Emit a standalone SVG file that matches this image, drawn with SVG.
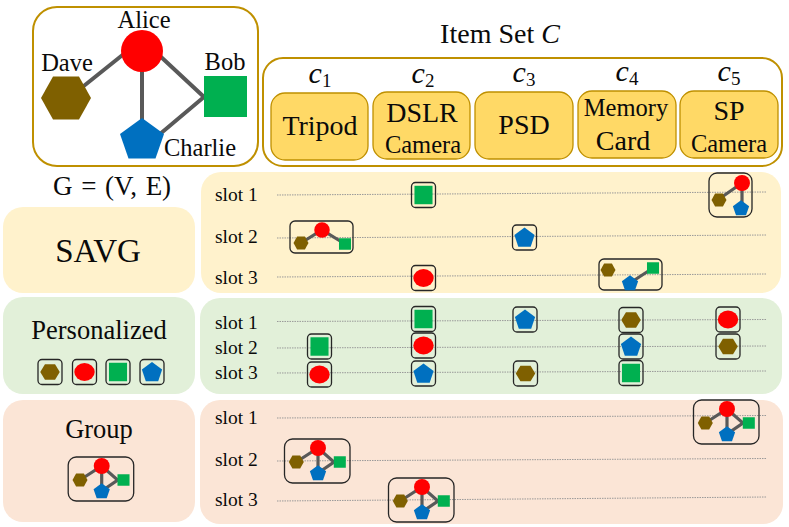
<svg xmlns="http://www.w3.org/2000/svg" width="789" height="527" viewBox="0 0 789 527">
<style>
text{font-family:"Liberation Serif","Times New Roman",serif;fill:#0a0a0a;text-anchor:middle}
.s{font-size:19.5px;text-anchor:start}
.n{font-size:24.500px}
.b{font-size:28px}
.m{font-size:24.5px}
.ci{font-size:30px;font-style:italic}
.ci tspan{font-size:19px;font-style:normal}
.item{fill:#FFD966;stroke:#BF9000;stroke-width:1.3}
.out{fill:none;stroke:#BF9000;stroke-width:2}
.y{fill:#FFF2CC}.g{fill:#E2F0D9}.o{fill:#FBE5D6}
.d{stroke:#999;stroke-width:1;stroke-dasharray:1.5 1;fill:none}
.f{fill:none;stroke:#262626;stroke-width:1.3}
.e{stroke:#595959;stroke-width:3.200;fill:none}
.em{stroke:#595959;stroke-width:4;fill:none}
</style>
<defs>
<polygon id="hex" fill="#7F6000" points="-25,0 -13,-21.5 13,-21.5 25,0 13,21.5 -13,21.5"/>
<circle id="cir" fill="#FF0000" r="21"/>
<rect id="squ" fill="#00B050" x="-21.5" y="-20.5" width="43" height="41"/>
<polygon id="pen" fill="#0070C0" points="0,-21 22,-5 13.5,19.5 -13.5,19.5 -22,-5"/>
<g id="one-hex"><rect class="f" x="-12" y="-12.5" width="24" height="25" rx="4"/><use href="#hex" transform="scale(.39,.36)"/></g>
<g id="one-cir"><rect class="f" x="-12" y="-12.5" width="24" height="25" rx="4"/><ellipse fill="#FF0000" rx="10.2" ry="9"/></g>
<g id="one-squ"><rect class="f" x="-12" y="-12.5" width="24" height="25" rx="4"/><use href="#squ" transform="scale(.42,.45)"/></g>
<g id="one-pen"><rect class="f" x="-12" y="-12.5" width="24" height="25" rx="4"/><use href="#pen" transform="scale(.46,.48)"/></g>
<g id="full">
<rect class="f" x="-33.5" y="-9" width="65.5" height="44" rx="8"/>
<path class="e" d="M-21.7,14L0,0L16,14L0,25M0,0V25"/>
<use href="#hex" transform="translate(-21.7,14) scale(.3)"/>
<use href="#squ" transform="translate(21.8,14) scale(.28)"/>
<use href="#pen" transform="translate(0,25) scale(.37)"/>
<use href="#cir" transform="scale(.38)"/>
</g>
</defs>

<g id="social-graph">
<rect class="out" x="33" y="7" width="225" height="159" rx="24"/>
<path class="em" d="M80,89L125,53M142,51V125M160,56L204,97L160,134"/>
<g id="dave"><use href="#hex" transform="translate(66,98)"/><text class="n" x="67" y="71">Dave</text></g>
<g id="alice"><use href="#cir" transform="translate(142,51)"/><text class="n" x="144" y="28">Alice</text></g>
<g id="bob"><use href="#squ" transform="translate(225.5,96.5)"/><text class="n" x="225" y="70">Bob</text></g>
<g id="charlie"><use href="#pen" transform="translate(142,139)"/><text class="n" x="200" y="156">Charlie</text></g>
</g>
<text id="g-label" x="112" y="195" font-size="27" word-spacing="2">G = (V, E)</text>

<g id="item-set">
<text x="500" y="43" font-size="28">Item Set <tspan font-style="italic">C</tspan></text>
<rect class="out" x="263" y="58" width="519" height="108" rx="20"/>
<g id="c1"><text class="ci" x="320" y="83">c<tspan dy="4">1</tspan></text><rect class="item" x="271" y="93" width="97" height="67" rx="14"/><text class="b" x="320" y="135">Tripod</text></g>
<g id="c2"><text class="ci" x="423" y="83">c<tspan dy="4">2</tspan></text><rect class="item" x="373" y="92" width="97" height="67" rx="14"/><text class="b" x="422" y="122">DSLR</text><text class="m" x="423" y="153">Camera</text></g>
<g id="c3"><text class="ci" x="524" y="82">c<tspan dy="4">3</tspan></text><rect class="item" x="475" y="92" width="98" height="67" rx="14"/><text class="b" x="524" y="134">PSD</text></g>
<g id="c4"><text class="ci" x="627" y="81">c<tspan dy="4">4</tspan></text><rect class="item" x="578" y="91" width="98" height="67" rx="14"/><text class="m" x="626" y="116">Memory</text><text class="b" x="623" y="150">Card</text></g>
<g id="c5"><text class="ci" x="729" y="81">c<tspan dy="4">5</tspan></text><rect class="item" x="680" y="91" width="98" height="67" rx="14"/><text class="b" x="729" y="120">SP</text><text class="m" x="729" y="152">Camera</text></g>
</g>

<g id="savg">
<rect class="y" x="3" y="207" width="192" height="86" rx="20"/>
<text x="98" y="262" font-size="33">SAVG</text>
<rect class="y" x="201" y="172" width="580" height="121" rx="20"/>
<text class="s" x="215" y="201">slot 1</text><text class="s" x="215" y="243">slot 2</text><text class="s" x="215" y="284">slot 3</text>
<path class="d" d="M277,195L767,192M277,238L767,235M277,277L767,274"/>
<use href="#one-squ" transform="translate(423.500,195)"/>
<use href="#one-cir" transform="translate(423.500,278)"/>
<use href="#one-pen" transform="translate(524.500,237.500)"/>
<g>
<rect class="f" x="290" y="221" width="63" height="32" rx="5"/>
<path class="e" d="M301,243L322,230L345,244"/>
<use href="#hex" transform="translate(301,243) scale(.3)"/><use href="#squ" transform="translate(345,244) scale(.28)"/><use href="#cir" transform="translate(322,230) scale(.37)"/>
</g>
<g>
<rect class="f" x="709" y="173" width="43" height="44" rx="8"/>
<path class="e" d="M719,199L742,183V208"/>
<use href="#hex" transform="translate(719,200) scale(.3)"/><use href="#pen" transform="translate(741,208) scale(.37)"/><use href="#cir" transform="translate(742,183) scale(.38)"/>
</g>
<g>
<rect class="f" x="599" y="259" width="63" height="31" rx="5"/>
<path class="e" d="M630,283L653,268"/>
<use href="#hex" transform="translate(608,270) scale(.3)"/><use href="#squ" transform="translate(653,268) scale(.28)"/><use href="#pen" transform="translate(630,283) scale(.37)"/>
</g>
</g>

<g id="personalized">
<rect class="g" x="3" y="297" width="192" height="97" rx="20"/>
<text x="99" y="339" font-size="26.500">Personalized</text>
<use href="#one-hex" transform="translate(50,372)"/><use href="#one-cir" transform="translate(84.500,372)"/><use href="#one-squ" transform="translate(118,372)"/><use href="#one-pen" transform="translate(152,372)"/>
<rect class="g" x="200" y="298" width="582" height="96" rx="20"/>
<text class="s" x="215" y="329">slot 1</text><text class="s" x="215" y="354">slot 2</text><text class="s" x="215" y="379">slot 3</text>
<path class="d" d="M277,321.500L767,319.500M277,348L767,346M277,373L767,371"/>
<use href="#one-squ" transform="translate(319.500,346.500)"/><use href="#one-cir" transform="translate(319.500,374.500)"/>
<use href="#one-squ" transform="translate(423.500,319)"/><use href="#one-cir" transform="translate(423.500,345.500)"/><use href="#one-pen" transform="translate(423.500,373.500)"/>
<use href="#one-pen" transform="translate(525,319.500)"/><use href="#one-hex" transform="translate(525.500,373.500)"/>
<use href="#one-hex" transform="translate(631,320)"/><use href="#one-pen" transform="translate(631,346.500)"/><use href="#one-squ" transform="translate(631,373)"/>
<use href="#one-cir" transform="translate(728,319.500)"/><use href="#one-hex" transform="translate(728,346.500)"/>
</g>

<g id="group">
<rect class="o" x="3" y="400" width="192" height="122" rx="20"/>
<text x="99" y="438" font-size="26.500">Group</text>
<use href="#full" transform="translate(101.700,466)"/>
<rect class="o" x="200" y="400" width="583" height="124" rx="20"/>
<text class="s" x="215" y="424">slot 1</text><text class="s" x="215" y="466">slot 2</text><text class="s" x="215" y="506">slot 3</text>
<path class="d" d="M277,418L767,415.500M277,461L767,458.500M277,501L767,497"/>
<use href="#full" transform="translate(318,448)"/>
<use href="#full" transform="translate(727,409)"/>
<use href="#full" transform="translate(422,487)"/>
</g>
</svg>
